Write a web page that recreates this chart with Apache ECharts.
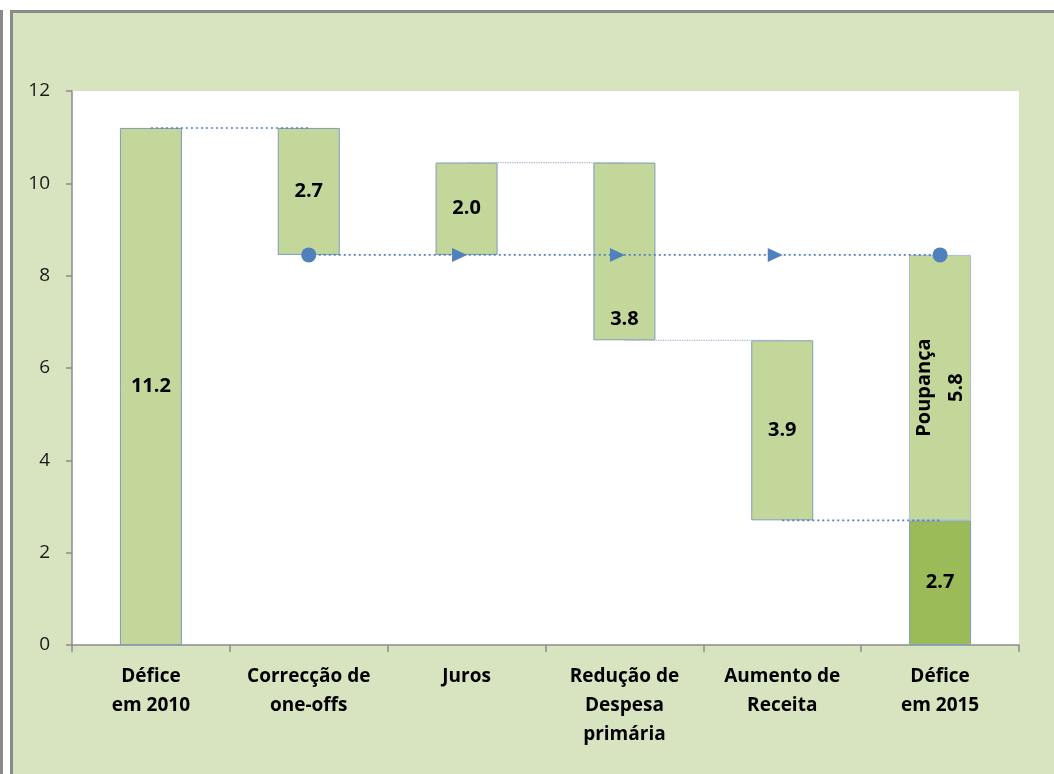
<!DOCTYPE html>
<html>
<head>
<meta charset="utf-8">
<script src="https://cdn.jsdelivr.net/npm/echarts@6/dist/echarts.min.js"></script>
<style>
  html, body { margin: 0; padding: 0; background: #fff; }
  #edge { position: absolute; left: 0; top: 10px; width: 3px; height: 764px; background: #8a8a8a; }
  #frame { position: absolute; left: 10px; top: 10px; width: 1041px; height: 761px;
           border-left: 3px solid #8a8a8a; border-top: 3px solid #8a8a8a; background: #d8e4bf; }
  #chart { width: 1041px; height: 761px; }
</style>
</head>
<body>
<div id="edge"></div>
<div id="frame"><div id="chart"></div></div>
<script>
    // categorias e valores (% do PIB)
    var categories = ['Défice\nem 2010', 'Correcção de\none-offs', 'Juros', 'Redução de\nDespesa\nprimária', 'Aumento de\nReceita', 'Défice\nem 2015'];
    var barLow = [0, 8.45, 8.45, 6.6, 2.7, 0];
    var barHigh = [11.2, 11.2, 10.45, 10.45, 6.6, 2.7];
    var barText = ['11.2', '2.7', '2.0', '3.8', '3.9', '2.7'];
    var savingsLow = 2.7;
    var savingsHigh = 8.45;
    var savingsText = 'Poupança\n5.8';
    var yTicks = [0, 2, 4, 6, 8, 10, 12];

    // ligações entre barras: [de, para, nível, tipo]
    var connectors = [
        [0, 1, 11.2, 'blue'],
        [2, 3, 10.45, 'grey'],
        [3, 4, 6.6, 'grey'],
        [4, 5, 2.7, 'blue']
    ];
    var flowLevel = 8.45;
    var flowMarks = [null, 'circle', 'arrow', 'arrow', 'arrow', 'circle'];

    var lightGreen = '#c4d79b';
    var darkGreen = '#9bbb59';
    var blue = '#4f81bd';
    var arrowPath = 'path://M0,0 L12,6 L0,12 Z';
    var n = categories.length;

    var baseData = [], deltaData = [], savingsData = [];
    for (var i = 0; i < n; i++) {
        baseData.push(barLow[i]);
        var item = {value: +(barHigh[i] - barLow[i]).toFixed(2)};
        if (i === n - 1) {
            item.itemStyle = {color: darkGreen, borderColor: '#7fa0c8'};
        }
        if (i === 3) {
            item.label = {position: 'insideBottom', distance: 11};
        }
        deltaData.push(item);
        savingsData.push(i === n - 1 ? +(savingsHigh - savingsLow).toFixed(2) : '-');
    }

    var series = [
        {
            type: 'bar', stack: 'w', barWidth: 62, silent: true,
            itemStyle: {color: 'transparent'},
            data: baseData
        },
        {
            type: 'bar', stack: 'w', barWidth: 62,
            itemStyle: {color: lightGreen, borderColor: '#7f9aba', borderWidth: 1},
            label: {
                show: true, position: 'inside', color: '#000', fontWeight: 'bold',
                fontSize: 20, fontFamily: 'Open Sans',
                formatter: function (p) { return barText[p.dataIndex]; }
            },
            data: deltaData
        },
        {
            type: 'bar', stack: 'w', barWidth: 62,
            itemStyle: {color: lightGreen, borderColor: '#a9bdd6', borderWidth: 1},
            label: {
                show: true, position: 'inside', rotate: 90, color: '#000', fontWeight: 'bold',
                fontSize: 20, fontFamily: 'Open Sans', lineHeight: 32, align: 'center',
                formatter: savingsText
            },
            data: savingsData
        }
    ];

    connectors.forEach(function (c) {
        var d = [];
        for (var k = 0; k < n; k++) d.push(k === c[0] || k === c[1] ? c[2] : '-');
        series.push({
            type: 'line', silent: true, symbol: 'none', z: 5,
            lineStyle: c[3] === 'blue'
                ? {color: blue, width: 1.6, type: [2, 3]}
                : {color: '#a8b6cc', width: 1.2, type: 'dotted'},
            data: d
        });
    });

    var flowData = flowMarks.map(function (m) {
        if (!m) return '-';
        if (m === 'circle') return {value: flowLevel, symbol: 'circle', symbolSize: 15};
        return {value: flowLevel, symbol: arrowPath, symbolSize: [15, 14], symbolOffset: [-7, 0]};
    });
    series.push({
        type: 'line', silent: true, z: 6, showAllSymbol: true,
        itemStyle: {color: blue},
        lineStyle: {color: blue, width: 1.6, type: [2, 3]},
        data: flowData
    });

    var myChart = echarts.init(document.getElementById('chart'));
    myChart.setOption({
        animation: false,
        textStyle: {fontFamily: 'Open Sans'},
        grid: {
            left: 59, top: 78, right: 35, bottom: 129,
            show: true, backgroundColor: '#ffffff', borderWidth: 0
        },
        xAxis: {
            type: 'category',
            data: categories,
            axisLine: {lineStyle: {color: '#8c8c8c', width: 1.5}},
            axisTick: {show: true, length: 7, lineStyle: {color: '#8c8c8c', width: 1.5}},
            axisLabel: {
                interval: 0, color: '#000', fontWeight: 'bold', fontSize: 19,
                lineHeight: 29, margin: 17
            }
        },
        yAxis: {
            type: 'value',
            min: yTicks[0], max: yTicks[yTicks.length - 1], interval: 2,
            splitLine: {show: false},
            axisLine: {show: true, lineStyle: {color: '#8c8c8c', width: 1.5}},
            axisTick: {show: true, length: 6, lineStyle: {color: '#8c8c8c', width: 1.5}},
            axisLabel: {color: '#1a1a1a', fontSize: 19, margin: 22}
        },
        series: series
    });
</script>
</body>
</html>
